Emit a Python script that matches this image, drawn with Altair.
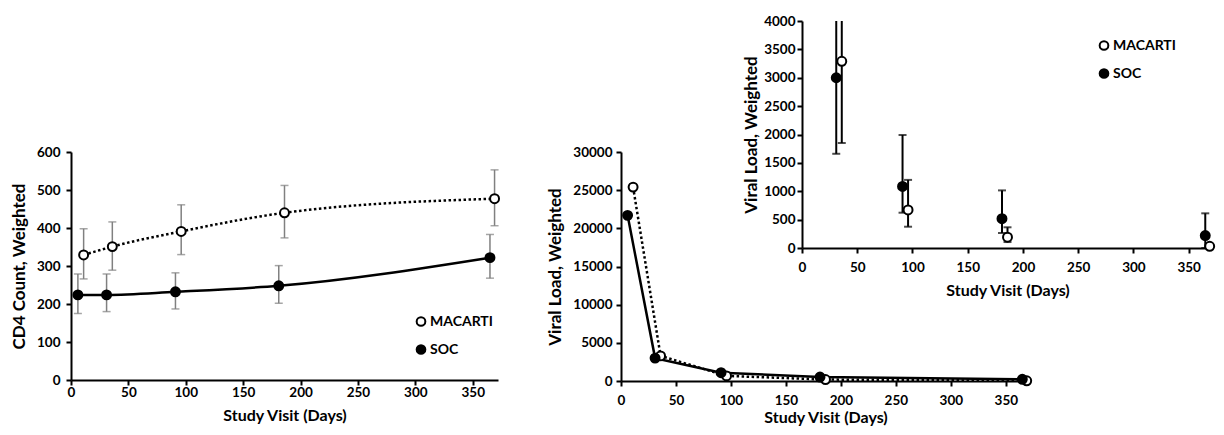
import altair as alt
import pandas as pd

# ---------------- data ----------------
series = ["MACARTI", "SOC"]
days_mac = [11, 36, 96, 186, 369]
days_soc = [6, 31, 91, 181, 365]

cd4_mac = [329, 351, 391, 440, 477]
cd4_mac_lo = [266, 289, 330, 374, 406]
cd4_mac_hi = [398, 416, 461, 512, 553]
cd4_soc = [224, 224, 232, 248, 322]
cd4_soc_lo = [175, 180, 187, 202, 268]
cd4_soc_hi = [279, 279, 282, 301, 383]

vl_mac = [25400, 3290, 670, 190, 30]
vl_mac_lo = [None, 1850, 375, 105, None]
vl_mac_hi = [None, 4600, 1200, 365, None]
vl_soc = [21700, 3000, 1085, 516, 220]
vl_soc_lo = [None, 1660, 622, 264, 0]
vl_soc_hi = [None, 4600, 1991, 1015, 611]

x_ticks = [0, 50, 100, 150, 200, 250, 300, 350]
cd4_ticks = [0, 100, 200, 300, 400, 500, 600]
vl_ticks = [0, 5000, 10000, 15000, 20000, 25000, 30000]
inset_ticks = [0, 500, 1000, 1500, 2000, 2500, 3000, 3500, 4000]


def frame(days_a, v_a, lo_a, hi_a, days_b, v_b, lo_b, hi_b):
    rows = []
    for i in range(len(days_a)):
        rows.append(dict(group="MACARTI", visit=i, day=days_a[i], value=v_a[i], lo=lo_a[i], hi=hi_a[i]))
    for i in range(len(days_b)):
        rows.append(dict(group="SOC", visit=i, day=days_b[i], value=v_b[i], lo=lo_b[i], hi=hi_b[i]))
    return pd.DataFrame(rows)


cd4 = frame(days_mac, cd4_mac, cd4_mac_lo, cd4_mac_hi, days_soc, cd4_soc, cd4_soc_lo, cd4_soc_hi)
vl = frame(days_mac, vl_mac, vl_mac_lo, vl_mac_hi, days_soc, vl_soc, vl_soc_lo, vl_soc_hi)

FONT = "Lato"
W, H = 1208, 419
X_TITLE = "Study Visit (Days)"
Y_TITLE_VL = "Viral Load, Weighted"


def xaxis(offset, lp, tp):
    return alt.Axis(orient="bottom", offset=offset, values=x_ticks, title=X_TITLE, format="d",
                    labelPadding=lp, titlePadding=tp, minExtent=0, titleFontSize=16)


def yaxis(offset, values, title, lp, tp):
    return alt.Axis(orient="left", offset=offset, values=values, title=title, format="d",
                    labelPadding=lp, titlePadding=tp, minExtent=0, titleFontSize=17)


def legend(x, y):
    return alt.Legend(orient="none", legendX=x, legendY=y, title=None, padding=0,
                      symbolType="circle", symbolSize=75, symbolStrokeColor="black",
                      symbolStrokeWidth=2, labelFont=FONT, labelFontWeight="bold",
                      labelFontSize=14, labelColor="black", labelOffset=2, rowPadding=10)


def group_chart(df, xs, ys, ax, ay, lines, interp, err_color, err_w, leg, inset=False):
    base = alt.Chart(df)
    X = alt.X("day:Q", scale=xs, axis=ax)
    layers = []
    if err_color is not None:
        eb = base.transform_filter("isValid(datum.lo)")
        layers.append(eb.mark_rule(color=err_color, strokeWidth=err_w).encode(
            x=X, y=alt.Y("lo:Q", scale=ys, axis=ay), y2="hi:Q"))
        layers.append(eb.mark_tick(color=err_color, thickness=err_w, size=8, orient="horizontal").encode(
            x=X, y=alt.Y("lo:Q", scale=ys, axis=ay)))
        layers.append(eb.transform_filter("datum.hi <= 4000 || %s" % ("false" if inset else "true"))
                      .mark_tick(color=err_color, thickness=err_w, size=8, orient="horizontal").encode(
            x=X, y=alt.Y("hi:Q", scale=ys, axis=ay)))
    if lines:
        layers.append(base.transform_filter("datum.group == 'SOC'").mark_line(
            color="black", strokeWidth=2.5, interpolate=interp).encode(
            x=X, y=alt.Y("value:Q", scale=ys, axis=ay)))
        layers.append(base.transform_filter("datum.group == 'MACARTI'").mark_line(
            color="black", strokeWidth=2.5, strokeDash=[2.5, 2.5], interpolate=interp).encode(
            x=X, y=alt.Y("value:Q", scale=ys, axis=ay)))
    layers.append(base.mark_circle(size=80, stroke="black", strokeWidth=2, opacity=1).encode(
        x=X, y=alt.Y("value:Q", scale=ys, axis=ay),
        fill=alt.Fill("group:N", scale=alt.Scale(domain=series, range=["white", "black"]), legend=leg)))
    return alt.layer(*layers)


# ---------- left: CD4 ----------
left = group_chart(
    cd4,
    alt.Scale(domain=[0, 372], range=[63, 490], nice=False, zero=False),
    alt.Scale(domain=[0, 600], range=[372, 144], nice=False),
    xaxis(372 - H, 0, 9),
    yaxis(-63, cd4_ticks, "CD4 Count, Weighted", 6, 8),
    True, "monotone", "#808080", 1.5, legend(406, 306.5))

# ---------- middle: viral load ----------
middle = group_chart(
    vl,
    alt.Scale(domain=[0, 372], range=[613, 1022], nice=False, zero=False),
    alt.Scale(domain=[0, 30000], range=[373, 144], nice=False),
    xaxis(373 - H, 7, 3),
    yaxis(-613, vl_ticks, Y_TITLE_VL, 4, 8),
    True, "linear", None, 0, None)

# ---------- inset: viral load zoom ----------
inset = group_chart(
    vl[vl["visit"] > 0],
    alt.Scale(domain=[0, 372], range=[794, 1205], nice=False, zero=False),
    alt.Scale(domain=[0, 4000], range=[240, 13], nice=False, clamp=True),
    xaxis(240 - H, 7, 9),
    yaxis(-794, inset_ticks, Y_TITLE_VL, 2, 3),
    False, "linear", "black", 2, legend(1089, 30.5), inset=True)

chart = alt.layer(left, middle, inset).resolve_scale(
    x="independent", y="independent", fill="independent"
).properties(
    width=W, height=H, padding=0, autosize=alt.AutoSizeParams(type="none")
).configure_view(stroke=None).configure_axis(
    grid=False, domainColor="black", domainWidth=2, tickColor="black", tickWidth=2, tickSize=5,
    labelFont=FONT, labelFontWeight="bold", labelFontSize=13.5, labelColor="black", labelFlush=False,
    titleFont=FONT, titleFontWeight="bold", titleColor="black"
)

chart.save("out.html", embed_options={"renderer": "svg", "actions": False})
